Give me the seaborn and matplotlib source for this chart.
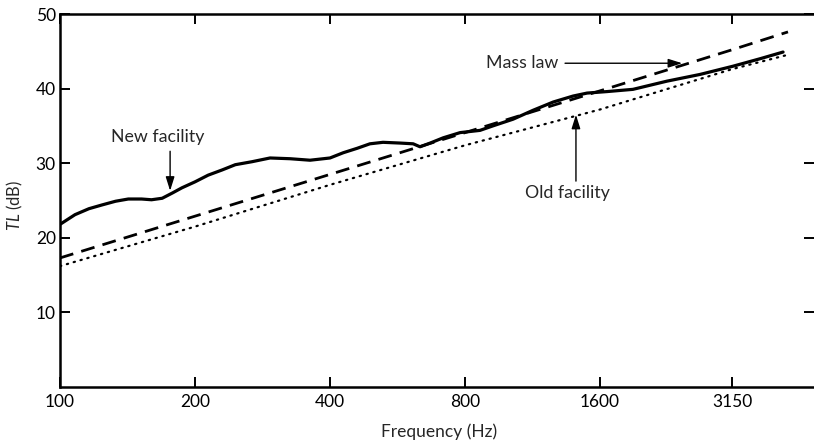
import matplotlib
matplotlib.use("Agg")
import matplotlib.pyplot as plt
from matplotlib.ticker import NullLocator, FixedLocator, FixedFormatter
import pandas as pd
import seaborn as sns

# ---- data ----
new_freq = [100, 108, 116, 124, 133, 142, 152, 160, 169, 178,
            187, 200, 214, 230, 246, 268, 294, 326, 361, 400,
            428, 460, 491, 525, 573, 613, 635, 669, 715, 780,
            864, 923, 1024, 1135, 1258, 1393, 1497, 1658, 1895, 2257,
            2674, 3166, 3637, 4095]
new_tl = [21.8, 23.1, 23.9, 24.4, 24.9, 25.2, 25.2, 25.1, 25.3, 26.0,
          26.7, 27.5, 28.4, 29.1, 29.8, 30.2, 30.7, 30.6, 30.4, 30.7,
          31.4, 32.0, 32.6, 32.8, 32.7, 32.6, 32.2, 32.7, 33.4, 34.1,
          34.4, 35.0, 35.9, 37.1, 38.2, 39.0, 39.4, 39.6, 39.9, 41.0,
          41.9, 43.0, 44.0, 44.9]
mass_freq = [100, 200, 400, 800, 1600, 3150, 4200]
mass_tl = [17.3, 22.9, 28.5, 34.1, 39.7, 45.2, 47.6]
old_freq = [100, 200, 400, 800, 1600, 3150, 4240]
old_tl = [16.2, 21.5, 27.1, 32.4, 37.2, 42.6, 44.6]

x_ticks = [100, 200, 400, 800, 1600, 3150]
x_tick_labels = ["100", "200", "400", "800", "1600", "3150"]
y_ticks = [10, 20, 30, 40, 50]

df_new = pd.DataFrame({"f": new_freq, "tl": new_tl})
df_mass = pd.DataFrame({"f": mass_freq, "tl": mass_tl})
df_old = pd.DataFrame({"f": old_freq, "tl": old_tl})

sns.set_theme(style="ticks")
plt.rcParams["font.family"] = ["Lato", "DejaVu Sans"]
plt.rcParams["mathtext.fontset"] = "custom"
plt.rcParams["mathtext.it"] = "Lato:italic"
plt.rcParams["mathtext.rm"] = "Lato"

fig = plt.figure(figsize=(8.14, 4.46), dpi=100)
ax = fig.add_axes([60 / 814, 59 / 446, 754 / 814, 373 / 446])

sns.lineplot(data=df_new, x="f", y="tl", ax=ax, color="black", lw=2.3, estimator=None, sort=False)
ax.lines[-1].set_solid_joinstyle("round")
sns.lineplot(data=df_mass, x="f", y="tl", ax=ax, color="black", lw=2.0, estimator=None, sort=False)
ax.lines[-1].set_dashes([5, 3])
sns.lineplot(data=df_old, x="f", y="tl", ax=ax, color="black", lw=1.6, estimator=None, sort=False)
ax.lines[-1].set_linestyle((0, (0.6, 2.6)))
ax.lines[-1].set_dash_capstyle("round")

ax.set_xscale("log")
ax.set_xlim(100, 4800)
ax.set_ylim(0, 50)
ax.xaxis.set_major_locator(FixedLocator(x_ticks))
ax.xaxis.set_major_formatter(FixedFormatter(x_tick_labels))
ax.xaxis.set_minor_locator(NullLocator())
ax.set_yticks(y_ticks)

for s in ["left", "bottom", "top"]:
    ax.spines[s].set_visible(True)
    ax.spines[s].set_linewidth(1.8)
    ax.spines[s].set_color("black")
ax.spines["right"].set_visible(False)

ax.tick_params(axis="both", which="major", direction="in", length=7, width=1.4,
               colors="black", labelsize=12.5, pad=3,
               top=True, right=True, labeltop=False, labelright=False)
ax.tick_params(axis="x", pad=5)
ax.set_xlabel("")
ax.set_ylabel("")
fig.text(15 / 814, 1 - 205 / 446, r"$TL$ (dB)", rotation=90, ha="center", va="center", fontsize=12)
fig.text(439 / 814, 1 - 432 / 446, "Frequency (Hz)", ha="center", va="center", fontsize=12.5)

# annotations
arrow_kw = dict(arrowstyle="-|>,head_length=0.7,head_width=0.22", color="black", lw=1.0,
                shrinkA=0, shrinkB=0)
ax.text(165, 33.5, "New facility", ha="center", va="center", fontsize=12.8)
ax.annotate("", xy=(176, 26.3), xytext=(176, 31.6), arrowprops=arrow_kw)
ax.text(1072, 43.4, "Mass law", ha="center", va="center", fontsize=12.8)
ax.annotate("", xy=(2440, 43.4), xytext=(1337, 43.4), arrowprops=arrow_kw)
ax.text(1351, 26.0, "Old facility", ha="center", va="center", fontsize=12.8)
ax.annotate("", xy=(1414, 36.5), xytext=(1414, 27.6), arrowprops=arrow_kw)

fig.savefig("out.png", dpi=100, facecolor="white")
